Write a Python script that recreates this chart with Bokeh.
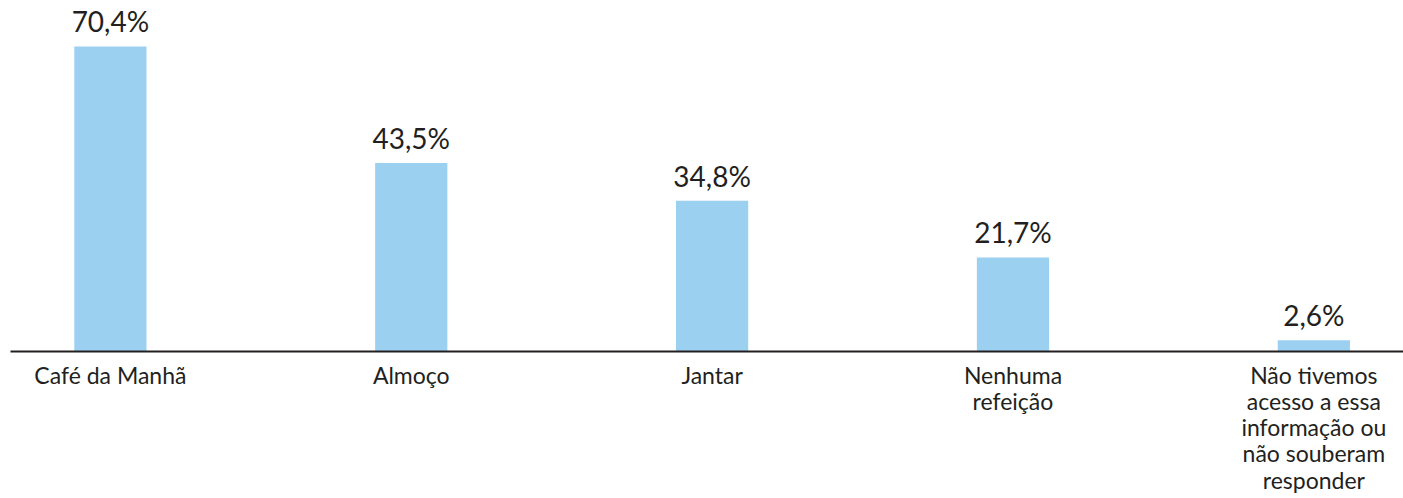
from bokeh.plotting import figure
from bokeh.models import ColumnDataSource, Range1d, FixedTicker
from bokeh.core.properties import value
from bokeh.embed import file_html
from bokeh.resources import INLINE

categories = ["Café da Manhã", "Almoço", "Jantar", "Nenhuma\nrefeição",
              "Não tivemos\nacesso a essa\ninformação ou\nnão souberam\nresponder"]
values = [70.4, 43.5, 34.8, 21.7, 2.6]
labels = ["70,4%", "43,5%", "34,8%", "21,7%", "2,6%"]

pos = list(range(len(categories)))
src = ColumnDataSource(dict(x=pos, top=values, label=labels))

p = figure(frame_width=1393, frame_height=351, output_backend="svg", toolbar_location=None,
           x_range=Range1d(-0.332, 4.298), y_range=Range1d(0, 81),
           min_border_left=10, min_border_right=0, min_border_top=0, min_border_bottom=0)

p.vbar(x="x", top="top", width=0.24, bottom=0, source=src,
       fill_color="#9cd0f0", line_color=None)
p.text(x="x", y="top", text="label", source=src, text_align="center",
       text_baseline="bottom", y_offset=-8, text_font=value("Lato"),
       text_font_size="28px", text_color="#231f20")

p.yaxis.visible = False
p.xgrid.visible = False
p.ygrid.visible = False
p.outline_line_color = None
p.background_fill_color = "white"
p.border_fill_color = "white"

ax = p.xaxis[0]
ax.ticker = FixedTicker(ticks=pos)
ax.major_label_overrides = {i: c for i, c in enumerate(categories)}
ax.major_tick_line_color = None
ax.minor_tick_line_color = None
ax.axis_line_color = "#231f20"
ax.axis_line_width = 2
ax.major_label_text_font = "Lato"
ax.major_label_text_font_size = "23px"
ax.major_label_text_color = "#231f20"
ax.major_label_standoff = 3
ax.major_label_text_line_height = 0.94

open("out.html", "w").write(file_html(p, INLINE))
